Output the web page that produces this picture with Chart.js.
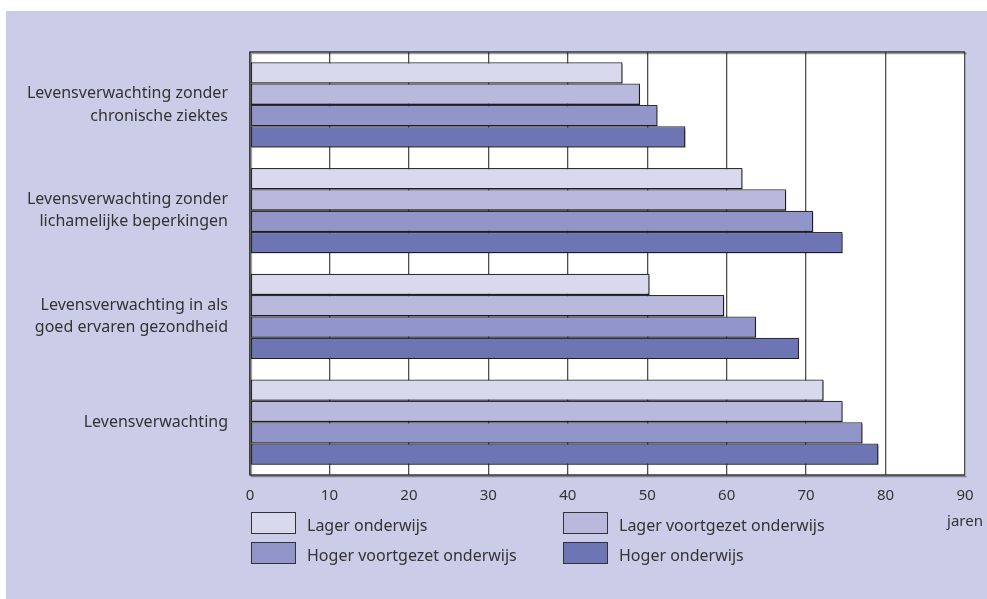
<!DOCTYPE html>
<html lang="nl">
<head>
<meta charset="utf-8">
<script src="https://cdn.jsdelivr.net/npm/chart.js@4.4.1/dist/chart.umd.min.js"></script>
<style>
  html, body { margin: 0; padding: 0; background: #ffffff; }
  #panel { position: absolute; left: 6px; top: 11px; width: 981px; height: 588px; background: #cbcde8; }
  #wrap { position: absolute; left: 0; top: 0; width: 987px; height: 599px; }
  #legend { position: absolute; left: 0; top: 0; width: 987px; height: 599px; pointer-events: none;
            font-family: "Noto Sans", sans-serif; font-size: 16px; color: #333333; }
  .item { position: absolute; display: flex; align-items: center; height: 22px; }
  .swatch { box-sizing: border-box; width: 45px; height: 22px; border: 1.5px solid #333333; margin-right: 11px; }
</style>
</head>
<body>
<div id="panel"></div>
<div id="wrap"><canvas id="chart" width="987" height="599"></canvas></div>
<div id="legend"></div>
<script>
// Categories (top to bottom) and one value list per education level, in years
const categories = [
  ["Levensverwachting zonder", "chronische ziektes"],
  ["Levensverwachting zonder", "lichamelijke beperkingen"],
  ["Levensverwachting in als", "goed ervaren gezondheid"],
  ["Levensverwachting"]
];
const seriesNames = [
  "Lager onderwijs",
  "Lager voortgezet onderwijs",
  "Hoger voortgezet onderwijs",
  "Hoger onderwijs"
];
const lagerOnderwijs = [46.9, 62.0, 50.3, 72.2];
const lagerVoortgezet = [49.1, 67.5, 59.7, 74.6];
const hogerVoortgezet = [51.3, 70.9, 63.7, 77.1];
const hogerOnderwijs = [54.8, 74.6, 69.1, 79.1];
const xTicks = [0, 10, 20, 30, 40, 50, 60, 70, 80, 90];
const unitLabel = "jaren";

const colors = ["#d8d9ed", "#b8b9dd", "#9195c9", "#6d75b5"];
const seriesValues = [lagerOnderwijs, lagerVoortgezet, hogerVoortgezet, hogerOnderwijs];
const FONT = "'Noto Sans', sans-serif";

// Soft drop shadow under the bars
const barShadow = {
  id: "barShadow",
  beforeDatasetsDraw(chart) {
    const ctx = chart.ctx;
    ctx.save();
    ctx.shadowColor = "rgba(0,0,0,0.38)";
    ctx.shadowOffsetX = 1.5;
    ctx.shadowOffsetY = 1.5;
    ctx.shadowBlur = 0.5;
  },
  afterDatasetsDraw(chart) {
    chart.ctx.restore();
  }
};

// White plot area with a dark frame
const plotFrame = {
  id: "plotFrame",
  beforeDraw(chart) {
    const { ctx, chartArea: a } = chart;
    ctx.save();
    ctx.fillStyle = "#ffffff";
    ctx.fillRect(a.left, a.top, a.right - a.left, a.bottom - a.top);
    ctx.restore();
  },
  afterDatasetsDraw(chart) {
    const { ctx, chartArea: a } = chart;
    ctx.save();
    ctx.strokeStyle = "#333333";
    ctx.lineWidth = 1.3;
    ctx.beginPath();
    ctx.moveTo(a.right, a.top);
    ctx.lineTo(a.left, a.top);
    ctx.lineTo(a.left, a.bottom);
    ctx.lineTo(a.right, a.bottom);
    ctx.stroke();
    ctx.restore();
  }
};

const chart = new Chart(document.getElementById("chart"), {
  type: "bar",
  data: {
    labels: categories,
    datasets: seriesNames.map((name, i) => ({
      label: name,
      data: seriesValues[i],
      backgroundColor: colors[i],
      borderColor: "#2e2e36",
      borderWidth: 1.3,
      borderSkipped: false,
      categoryPercentage: 0.807,
      barPercentage: 1.0
    }))
  },
  options: {
    indexAxis: "y",
    responsive: false,
    animation: false,
    layout: { padding: { left: 0, top: 52, right: 22, bottom: 0 } },
    plugins: {
      legend: { display: false },
      tooltip: { enabled: false }
    },
    scales: {
      x: {
        type: "linear",
        min: 0,
        max: 90,
        afterBuildTicks(scale) { scale.ticks = xTicks.map(v => ({ value: v })); },
        afterFit(scale) {
          scale.height = 124;
          scale.paddingLeft = 0;
          scale.paddingRight = 0;
        },
        border: { display: false },
        grid: { color: "#4f4f4f", lineWidth: 1.3, drawTicks: false },
        ticks: {
          padding: 8,
          color: "#333333",
          font: { family: FONT, size: 15, lineHeight: 1.7 },
          maxRotation: 0,
          callback: (v) => v === 90 ? [String(v), unitLabel] : String(v)
        }
      },
      y: {
        type: "category",
        afterFit(scale) { scale.width = 250; },
        border: { display: false },
        grid: { display: false, drawTicks: false },
        ticks: {
          padding: 22,
          color: "#333333",
          font: { family: FONT, size: 16, lineHeight: 1.4 }
        }
      }
    }
  },
  plugins: [plotFrame, barShadow]
});

// Two-column legend built from the chart's datasets
const legend = document.getElementById("legend");
const legendPos = [[251, 512], [563, 512], [251, 542], [563, 542]];
chart.data.datasets.forEach((ds, i) => {
  const item = document.createElement("div");
  item.className = "item";
  item.style.left = legendPos[i][0] + "px";
  item.style.top = (legendPos[i][1] + 2) + "px";
  const sw = document.createElement("span");
  sw.className = "swatch";
  sw.style.background = ds.backgroundColor;
  sw.style.marginTop = "-4px";
  const tx = document.createElement("span");
  tx.textContent = ds.label;
  item.appendChild(sw);
  item.appendChild(tx);
  legend.appendChild(item);
});
</script>
</body>
</html>
